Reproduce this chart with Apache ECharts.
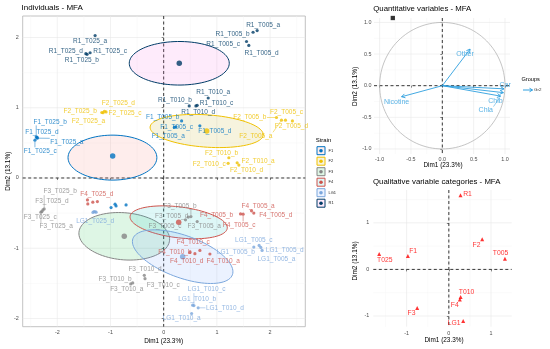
<!DOCTYPE html>
<html><head><meta charset="utf-8">
<script src="https://cdn.jsdelivr.net/npm/echarts@6/dist/echarts.min.js"></script>
<style>html,body{margin:0;padding:0;background:#fff}#c{width:550px;height:349px}</style>
</head><body><div id="c"></div>
<script>
const FF = '"Liberation Sans", Arial, Helvetica, sans-serif';

// ---------- data ----------
const strains = ['F1', 'F2', 'F3', 'F4', 'LG1', 'R1'];

const F1 = [
  ['F1_T025_a', -2.377, 0.567], ['F1_T025_b', -2.396, 0.586], ['F1_T025_c', -2.42, 0.539], ['F1_T025_d', -2.377, 0.577],
  ['F1_T005_a', 0.20, 0.72], ['F1_T005_b', 0.337, 0.813], ['F1_T005_c', 0.23, 0.728], ['F1_T005_d', 0.68, 0.742],
  ['F1_T010_a', -0.989, -0.421], ['F1_T010_b', -0.914, -0.373], ['F1_T010_c', -0.895, -0.397], ['F1_T010_d', -0.707, -0.383]];
const F2 = [
  ['F2_T025_a', -1.14, 0.929], ['F2_T025_b', -1.163, 0.932], ['F2_T025_c', -1.083, 0.94], ['F2_T025_d', -1.114, 0.95],
  ['F2_T005_a', 2.214, 0.823], ['F2_T005_b', 2.12, 0.861], ['F2_T005_c', 2.42, 0.813], ['F2_T005_d', 2.289, 0.823],
  ['F2_T010_a', 1.381, 0.217], ['F2_T010_b', 1.225, 0.288], ['F2_T010_c', 1.212, 0.209], ['F2_T010_d', 1.413, 0.184]];
const F3 = [
  ['F3_T025_a', -2.308, -0.487], ['F3_T025_b', -2.246, -0.44], ['F3_T025_c', -2.289, -0.478], ['F3_T025_d', -2.27, -0.454],
  ['F3_T005_a', 0.63, -0.62], ['F3_T005_b', 0.512, -0.549], ['F3_T005_c', 0.41, -0.596], ['F3_T005_d', 0.462, -0.557],
  ['F3_T010_a', -0.619, -1.508], ['F3_T010_b', -0.582, -1.494], ['F3_T010_c', -0.351, -1.433], ['F3_T010_d', -0.364, -1.386]];
const F4 = [
  ['F4_T025_a', -1.433, -0.312], ['F4_T025_b', -1.426, -0.369], ['F4_T025_c', -1.332, -0.345], ['F4_T025_d', -1.246, -0.336],
  ['F4_T005_a', 1.651, -0.468], ['F4_T005_b', 1.445, -0.511], ['F4_T005_c', 1.493, -0.515], ['F4_T005_d', 1.694, -0.50],
  ['F4_T010_a', 0.869, -1.082], ['F4_T010_b', 0.493, -1.06], ['F4_T010_c', 0.681, -1.031], ['F4_T010_d', 0.587, -1.078]];
const LG1 = [
  ['LG1_T025_a', -1.33, -0.49], ['LG1_T025_b', -1.31, -0.478], ['LG1_T025_c', -1.29, -0.482], ['LG1_T025_d', -1.27, -0.487],
  ['LG1_T005_a', 1.85, -1.031], ['LG1_T005_b', 1.694, -0.983], ['LG1_T005_c', 1.794, -0.96], ['LG1_T005_d', 1.826, -0.989],
  ['LG1_T010_a', 0.525, -1.929], ['LG1_T010_b', 0.544, -1.811], ['LG1_T010_c', 0.568, -1.816], ['LG1_T010_d', 0.649, -1.848]];
const R1 = [
  ['R1_T025_a', -1.289, 2.028], ['R1_T025_b', -1.44, 1.76], ['R1_T025_c', -1.383, 1.783], ['R1_T025_d', -1.463, 1.769],
  ['R1_T005_a', 1.757, 2.099], ['R1_T005_b', 1.68, 2.075], ['R1_T005_c', 1.557, 1.943], ['R1_T005_d', 1.60, 1.887],
  ['R1_T010_a', 0.837, 1.139], ['R1_T010_b', 0.48, 1.026], ['R1_T010_c', 0.606, 1.026], ['R1_T010_d', 0.63, 1.035]];
const individuals = [F1, F2, F3, F4, LG1, R1];

// repelled label anchors (data units)
const labelPos = {
  R1_T025_a: [-1.383, 1.943], R1_T025_b: [-1.538, 1.674], R1_T025_c: [-1.007, 1.806], R1_T025_d: [-1.839, 1.806],
  R1_T005_a: [1.869, 2.170], R1_T005_b: [1.295, 2.043], R1_T005_c: [1.118, 1.911], R1_T005_d: [1.839, 1.783],
  R1_T010_a: [0.931, 1.224], R1_T010_b: [0.212, 1.106], R1_T010_c: [0.994, 1.060], R1_T010_d: [0.649, 0.932],
  F1_T025_a: [-1.82, 0.515], F1_T025_b: [-2.133, 0.799], F1_T025_c: [-2.321, 0.387], F1_T025_d: [-2.289, 0.657],
  F1_T005_a: [0.086, 0.596], F1_T005_b: [-0.019, 0.870], F1_T005_c: [0.244, 0.728], F1_T005_d: [0.962, 0.667],
  F2_T025_a: [-1.415, 0.813], F2_T025_b: [-1.570, 0.950], F2_T025_c: [-0.726, 0.918], F2_T025_d: [-0.852, 1.060],
  F2_T005_a: [1.732, 0.600], F2_T005_b: [1.619, 0.870], F2_T005_c: [2.308, 0.932], F2_T005_d: [2.401, 0.742],
  F2_T010_a: [1.775, 0.241], F2_T010_b: [1.088, 0.359], F2_T010_c: [0.856, 0.194], F2_T010_d: [1.557, 0.104],
  F3_T025_a: [-2.021, -0.691], F3_T025_b: [-1.946, -0.194], F3_T025_c: [-2.321, -0.557], F3_T025_d: [-2.101, -0.336],
  F3_T005_a: [0.762, -0.681], F3_T005_b: [0.306, -0.397], F3_T005_c: [0.024, -0.681], F3_T005_d: [0.150, -0.539],
  F3_T010_a: [-0.694, -1.589], F3_T010_b: [-0.914, -1.437], F3_T010_c: [-0.008, -1.528], F3_T010_d: [-0.351, -1.305],
  F4_T025_d: [-1.257, -0.231],
  F4_T005_a: [1.775, -0.397], F4_T005_b: [0.994, -0.525], F4_T005_c: [1.418, -0.667], F4_T005_d: [2.107, -0.525],
  F4_T010_a: [1.118, -1.187], F4_T010_b: [0.212, -1.06], F4_T010_c: [0.555, -0.918], F4_T010_d: [0.432, -1.187],
  LG1_T025_d: [-1.289, -0.610],
  LG1_T005_a: [2.12, -1.153], LG1_T005_b: [1.356, -1.06], LG1_T005_c: [1.694, -0.879], LG1_T005_d: [2.276, -1.021],
  LG1_T010_a: [0.338, -1.990], LG1_T010_b: [0.630, -1.721], LG1_T010_c: [0.807, -1.589], LG1_T010_d: [1.150, -1.858]
};

const centroids = [[-0.959, 0.313], [0.808, 0.669], [-0.741, -0.83], [0.282, -0.631], [0.357, -1.12], [0.293, 1.633]];
// confidence ellipses: centre x, centre y, semi-axis a (x units), semi-axis b (y units), tilt (deg)
const ellipses = [
  [-0.963, 0.29, 0.835, 0.32, 0],
  [0.808, 0.669, 1.066, 0.23, -4],
  [-0.741, -0.83, 0.855, 0.335, -5],
  [0.282, -0.631, 0.92, 0.22, -7],
  [0.357, -1.12, 0.995, 0.30, -20],
  [0.293, 1.633, 0.94, 0.31, 0]
];

const mainXTicks = [-2, -1, 0, 1, 2];
const mainYTicks = [-2, -1, 0, 1, 2];
const mainXMinor = [-2.5, -1.5, -0.5, 0.5, 1.5, 2.5];
const mainYMinor = [-1.5, -0.5, 0.5, 1.5];
const varTicks = [-1, -0.5, 0, 0.5, 1];
const varMinor = [-0.75, -0.25, 0.25, 0.75];
const catTicks = [-1, 0, 1];
const catXMinor = [-1.5, -0.5, 0.5];
const catYMinor = [-0.5, 0.5, 1.5];

const varNames = ['Other', 'Nicotine', 'Car', 'Chlb', 'Chla'];
const varCoords = [[0.443, 0.578], [-0.65, -0.175], [0.985, -0.05], [0.975, -0.11], [0.93, -0.165]];
const varLabelPos = [[0.363, 0.503], [-0.73, -0.263], [1.003, 0.011], [0.848, -0.243], [0.694, -0.386]];
const corCircle = [[0, 0, 1]];
const stray = [[-0.79, 1.07]];

const catNames = ['R1', 'F2', 'T005', 'T025', 'F1', 'T010', 'F4', 'F3', 'LG1'];
const catCoords = [[0.277, 1.59], [0.79, 0.645], [1.33, 0.23], [-1.65, 0.33], [-0.97, 0.29], [0.28, -0.59], [0.26, -0.645], [-0.75, -0.83], [0.34, -1.11]];
const catLabelPos = [[0.443, 1.62], [0.656, 0.523], [1.225, 0.344], [-1.517, 0.2], [-0.846, 0.40], [0.419, -0.482], [0.142, -0.768], [-0.884, -0.946], [0.126, -1.161]];

// ---------- styles ----------
const strainColors = ['#0073C2', '#EFC000', '#868686', '#CD534C', '#7AA6DC', '#003C67'];
const ellipseFill = ['rgba(248,118,109,0.13)', 'rgba(183,159,0,0.13)', 'rgba(0,186,56,0.13)', 'rgba(0,191,196,0.13)', 'rgba(97,156,255,0.13)', 'rgba(245,100,227,0.13)'];
const varColor = '#2E9FDF';
const catColor = '#FF0000';
const LBL = 6.5;

const ctx = document.createElement('canvas').getContext('2d');
function textW(t, size) { ctx.font = size + 'px ' + FF; return ctx.measureText(t).width; }

function gridLines(gi, xs, ys, style, z) {
  return {
    type: 'custom', xAxisIndex: gi, yAxisIndex: gi, silent: true, z: z, animation: false,
    data: xs.map(v => [v, 0]).concat(ys.map(v => [v, 1])),
    renderItem(params, api) {
      const cs = params.coordSys; const v = api.value(0), k = api.value(1);
      if (k === 0) {
        const x = api.coord([v, 0])[0];
        return { type: 'line', shape: { x1: x, y1: cs.y, x2: x, y2: cs.y + cs.height }, style: style };
      }
      const y = api.coord([0, v])[1];
      return { type: 'line', shape: { x1: cs.x, y1: y, x2: cs.x + cs.width, y2: y }, style: style };
    }
  };
}

function connectorSeries(gi, items, z) {
  return {
    type: 'custom', xAxisIndex: gi, yAxisIndex: gi, silent: true, z: z, animation: false,
    data: items.map(i => i.slice(0, 6)),
    renderItem(params, api) {
      const p = api.coord([api.value(0), api.value(1)]);
      const l = api.coord([api.value(2), api.value(3)]);
      const hw = api.value(4), hh = api.value(5);
      const qx = Math.max(l[0] - hw, Math.min(p[0], l[0] + hw));
      const qy = Math.max(l[1] - hh, Math.min(p[1], l[1] + hh));
      const d = Math.hypot(p[0] - qx, p[1] - qy);
      if (d < 7) return null;
      const sx = p[0] + (qx - p[0]) * 1.5 / d, sy = p[1] + (qy - p[1]) * 1.5 / d;
      return { type: 'line', shape: { x1: sx, y1: sy, x2: qx, y2: qy }, style: { stroke: items[params.dataIndex][6], lineWidth: 0.5 } };
    }
  };
}

function axisCfg(gi, min, max, ticks, fmt, margin) {
  return {
    type: 'value', gridIndex: gi, min: min, max: max,
    splitLine: { show: false }, axisLine: { show: false },
    axisTick: { show: true, length: 2, customValues: ticks, lineStyle: { color: '#333', width: 0.6 } },
    axisLabel: { customValues: ticks, formatter: fmt, fontSize: 5.4, color: '#4d4d4d', margin: margin, fontFamily: FF }
  };
}
const fmtInt = v => String(Math.round(v));
const fmt1 = v => v.toFixed(1);

const majorStyle = { stroke: '#e8e8e8', lineWidth: 0.6 };
const minorStyle = { stroke: '#f3f3f3', lineWidth: 0.4 };
const dashStyle = { stroke: '#222', lineWidth: 0.9, lineDash: [3, 2.5] };

const series = [];
// main panel
series.push(gridLines(0, mainXMinor, mainYMinor, minorStyle, 0));
series.push(gridLines(0, mainXTicks, mainYTicks, majorStyle, 0));
series.push(gridLines(0, [0], [0], dashStyle, 1));
series.push({
  type: 'custom', xAxisIndex: 0, yAxisIndex: 0, silent: true, z: 2, animation: false,
  data: ellipses.map((e, i) => e.concat([i])),
  renderItem(params, api) {
    const c = api.coord([api.value(0), api.value(1)]);
    const sx = api.size([1, 0])[0], sy = api.size([0, 1])[1];
    const a = api.value(2) * sx, b = api.value(3) * sy, th = api.value(4) * Math.PI / 180, gi = api.value(5);
    const pts = [];
    for (let i = 0; i < 90; i++) {
      const t = i / 90 * 2 * Math.PI;
      const u = a * Math.cos(t), v = b * Math.sin(t);
      pts.push([c[0] + u * Math.cos(th) + v * Math.sin(th), c[1] - u * Math.sin(th) + v * Math.cos(th)]);
    }
    return { type: 'polygon', shape: { points: pts }, style: { fill: ellipseFill[gi], stroke: strainColors[gi], lineWidth: 1 } };
  }
});
const mainConn = [];
individuals.forEach((ind, si) => {
  series.push({
    type: 'scatter', xAxisIndex: 0, yAxisIndex: 0, z: 3, silent: true, symbolSize: 3.2,
    itemStyle: { color: strainColors[si] }, data: ind.map(d => [d[1], d[2]])
  });
  ind.forEach(d => {
    const lp = labelPos[d[0]];
    if (lp) mainConn.push([d[1], d[2], lp[0], lp[1], textW(d[0], LBL) / 2 + 0.5, 3.5, strainColors[si]]);
  });
});
series.push({
  type: 'scatter', xAxisIndex: 0, yAxisIndex: 0, z: 3, silent: true, symbolSize: 5.5,
  data: centroids.map((c, i) => ({ value: c, itemStyle: { color: strainColors[i] } }))
});
series.push(connectorSeries(0, mainConn, 3));
individuals.forEach((ind, si) => {
  series.push({
    type: 'scatter', xAxisIndex: 0, yAxisIndex: 0, z: 4, silent: true, symbolSize: 1,
    itemStyle: { color: 'rgba(0,0,0,0)' },
    label: { show: true, position: 'inside', formatter: '{b}', color: strainColors[si], fontSize: LBL, fontFamily: FF },
    data: ind.filter(d => labelPos[d[0]]).map(d => ({ name: d[0], value: labelPos[d[0]] }))
  });
});

// variables panel
series.push(gridLines(1, varMinor, varMinor, minorStyle, 0));
series.push(gridLines(1, varTicks, varTicks, majorStyle, 0));
series.push(gridLines(1, [0], [0], dashStyle, 1));
series.push({
  type: 'custom', xAxisIndex: 1, yAxisIndex: 1, silent: true, z: 2, animation: false, data: corCircle,
  renderItem(params, api) {
    const cx = api.value(0), cy = api.value(1), r = api.value(2);
    const pts = [];
    for (let i = 0; i <= 120; i++) { const t = i / 120 * 2 * Math.PI; pts.push(api.coord([cx + r * Math.cos(t), cy + r * Math.sin(t)])); }
    return { type: 'polyline', shape: { points: pts }, style: { stroke: '#b5b5b5', lineWidth: 0.8, fill: null } };
  }
});
series.push({
  type: 'custom', xAxisIndex: 1, yAxisIndex: 1, silent: true, z: 3, animation: false,
  data: varCoords.map(c => [0, 0, c[0], c[1]]),
  renderItem(params, api) {
    const p0 = api.coord([api.value(0), api.value(1)]), p1 = api.coord([api.value(2), api.value(3)]);
    const ang = Math.atan2(p1[1] - p0[1], p1[0] - p0[0]), L = 4, w = Math.PI / 6;
    const h1 = [p1[0] - L * Math.cos(ang - w), p1[1] - L * Math.sin(ang - w)];
    const h2 = [p1[0] - L * Math.cos(ang + w), p1[1] - L * Math.sin(ang + w)];
    return { type: 'group', children: [
      { type: 'line', shape: { x1: p0[0], y1: p0[1], x2: p1[0], y2: p1[1] }, style: { stroke: varColor, lineWidth: 0.9 } },
      { type: 'polyline', shape: { points: [h1, p1, h2] }, style: { stroke: varColor, lineWidth: 0.9, fill: null } }
    ] };
  }
});
series.push(connectorSeries(1, varCoords.map((c, i) => [c[0], c[1], varLabelPos[i][0], varLabelPos[i][1], textW(varNames[i], 7) / 2 + 0.5, 3.5, varColor]), 3));
series.push({
  type: 'scatter', xAxisIndex: 1, yAxisIndex: 1, z: 4, silent: true, symbolSize: 1,
  itemStyle: { color: 'rgba(0,0,0,0)' },
  label: { show: true, position: 'inside', formatter: '{b}', color: varColor, fontSize: 7, fontFamily: FF },
  data: varNames.map((n, i) => ({ name: n, value: varLabelPos[i] }))
});
series.push({
  type: 'scatter', xAxisIndex: 1, yAxisIndex: 1, z: 4, silent: true, symbol: 'rect', symbolSize: 4.3,
  itemStyle: { color: '#000' }, data: stray
});

// categories panel
series.push(gridLines(2, catXMinor, catYMinor, minorStyle, 0));
series.push(gridLines(2, catTicks, catTicks, majorStyle, 0));
series.push(gridLines(2, [0], [0], dashStyle, 1));
series.push({
  type: 'scatter', xAxisIndex: 2, yAxisIndex: 2, z: 3, silent: true, symbol: 'triangle', symbolSize: 4,
  itemStyle: { color: catColor }, data: catCoords
});
series.push({
  type: 'scatter', xAxisIndex: 2, yAxisIndex: 2, z: 4, silent: true, symbolSize: 1,
  itemStyle: { color: 'rgba(0,0,0,0)' },
  label: { show: true, position: 'inside', formatter: '{b}', color: catColor, fontSize: 6.8, fontFamily: FF },
  data: catNames.map((n, i) => ({ name: n, value: catLabelPos[i] }))
});

function txt(text, x, y, size, opts) {
  opts = opts || {};
  const align = opts.align || 'left';
  return {
    type: 'text', x: x, y: y, rotation: opts.rot || 0, silent: true, z: 10,
    style: { text: text, fill: opts.color || '#000', font: size + 'px ' + FF, fontSize: size, fontFamily: FF,
      textAlign: align, align: align, textVerticalAlign: 'middle', verticalAlign: 'middle' }
  };
}

const graphic = [
  txt('Individuals - MFA', 21.5, 8, 8),
  txt('Quantitative variables - MFA', 373.3, 9, 7.8),
  txt('Qualitative variable categories - MFA', 373, 181.7, 7.8),
  txt('Dim1 (23.3%)', 163.7, 341, 6.4, { align: 'center' }),
  txt('Dim2 (13.1%)', 8, 171.3, 6.4, { align: 'center', rot: Math.PI / 2 }),
  txt('Dim1 (23.3%)', 443, 165.7, 6.4, { align: 'center' }),
  txt('Dim2 (13.1%)', 355, 86.5, 6.4, { align: 'center', rot: Math.PI / 2 }),
  txt('Dim1 (23.3%)', 444, 340.7, 6.4, { align: 'center' }),
  txt('Dim2 (13.1%)', 355, 261, 6.4, { align: 'center', rot: Math.PI / 2 }),
  txt('Strain', 315.7, 140.5, 6),
  txt('Groups', 521.5, 79.3, 5.6),
  { type: 'line', silent: true, shape: { x1: 523, y1: 90, x2: 532.5, y2: 90 }, style: { stroke: varColor, lineWidth: 1 } },
  { type: 'polyline', silent: true, shape: { points: [[529.5, 88.2], [532.5, 90], [529.5, 91.8]] }, style: { stroke: varColor, lineWidth: 1, fill: null } },
  txt('Gr2', 534, 90, 4.4, { color: '#333' })
];
const keyY = [150.7, 161.2, 171.7, 182.2, 192.7, 203.2];
strains.forEach((s, i) => {
  graphic.push({ type: 'rect', silent: true, shape: { x: 317, y: keyY[i] - 4, width: 8, height: 8 }, style: { fill: ellipseFill[i], stroke: strainColors[i], lineWidth: 1 } });
  graphic.push({ type: 'circle', silent: true, shape: { cx: 321, cy: keyY[i], r: 1.8 }, style: { fill: strainColors[i] } });
  graphic.push(txt(s, 328.5, keyY[i], 4, { color: '#222' }));
});

const option = {
  animation: false,
  textStyle: { fontFamily: FF },
  grid: [
    { left: 22.7, top: 16, width: 282.6, height: 310.7, show: true, borderColor: '#b3b3b3', borderWidth: 0.8, backgroundColor: 'rgba(0,0,0,0)' },
    { left: 374, top: 18, width: 136, height: 136 },
    { left: 373.3, top: 190, width: 138.4, height: 136.7 }
  ],
  xAxis: [
    axisCfg(0, -2.65, 2.662, mainXTicks, fmtInt, 3.2),
    axisCfg(1, -1.09, 1.08, varTicks, fmt1, 2.6),
    axisCfg(2, -1.79, 1.49, catTicks, fmtInt, 4)
  ],
  yAxis: [
    axisCfg(0, -2.117, 2.306, mainYTicks, fmtInt, 4),
    axisCfg(1, -1.08, 1.07, varTicks, fmt1, 2.5),
    axisCfg(2, -1.23, 1.705, catTicks, fmtInt, 4)
  ],
  series: series,
  graphic: graphic
};

const chart = echarts.init(document.getElementById('c'), null, { renderer: 'canvas' });
chart.setOption(option);
</script></body></html>
